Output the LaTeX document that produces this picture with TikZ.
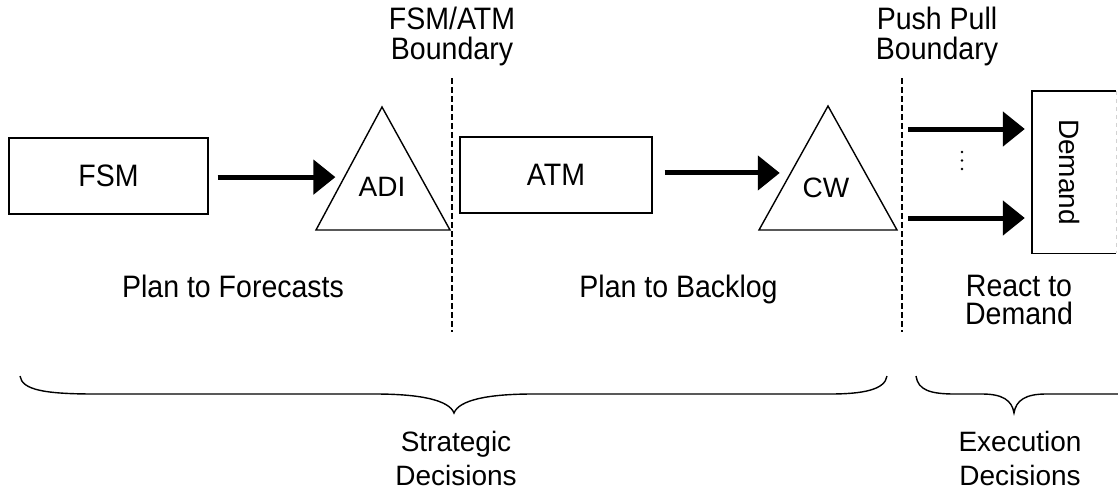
\documentclass[tikz,border=0pt]{standalone}
\usepackage{fontspec}
\setmainfont{Liberation Sans}
\newfontfamily\tallfont[FakeStretch=0.92]{Liberation Sans}
\usetikzlibrary{arrows.meta,calc}

\begin{document}
\begin{tikzpicture}[x=1pt,y=-1pt,
  box/.style={draw, line width=1.4pt, inner sep=0pt, font=\tallfont\fontsize{31}{30}\selectfont},
  tri/.style={draw, line width=1.4pt, line join=miter},
  conn/.style={line width=5pt, -{Triangle[length=22pt,width=34pt]}},
  boundary/.style={line width=1.3pt, dash pattern=on 6pt off 3pt},
  brace/.style={line width=1.4pt},
  lbl/.style={font=\tallfont\fontsize{31}{30}\selectfont, align=center, inner sep=0pt, anchor=base},
  sm/.style={font=\fontsize{28}{34}\selectfont, inner sep=0pt, align=center},
]
\useasboundingbox (0,0) rectangle (1118,490);

% planning boxes
\node[box, minimum width=199pt, minimum height=76pt] (fsm) at (108.5,176) {FSM};
\node[box, minimum width=192pt, minimum height=76pt] (atm) at (556,175) {ATM};

% inventory triangles
\coordinate (adiBL) at (316,230);
\coordinate (adiBR) at (450,230);
\coordinate (adiTop) at (382,107);
\draw[tri] (adiBL) -- (adiBR) -- (adiTop) -- cycle;
\node[sm] (adi) at (382,187) {ADI};

\coordinate (cwBL) at (759,230);
\coordinate (cwBR) at (897,230);
\coordinate (cwTop) at (828,106);
\draw[tri] (cwBL) -- (cwBR) -- (cwTop) -- cycle;
\node[sm] (cw) at (826,187.5) {CW};

% demand box, open to the right
\node[minimum width=84pt, minimum height=162pt, inner sep=0pt] (demand) at (1074,172) {};
\draw[line width=1.4pt] (demand.north east) -- (demand.north west) -- (demand.south west) -- (demand.south east);
\draw[gray!35, line width=1pt, dash pattern=on 4pt off 4pt] (demand.north east) -- (demand.south east);
\node[sm, rotate=-90] (demandtext) at (1069,172) {Demand};

% flows
\coordinate (adiIn) at ($(adiBL)!0.43!(adiTop)$);
\coordinate (cwIn) at ($(cwBL)!0.46!(cwTop)$);
\draw[conn, shorten <=9pt, shorten >=9pt] (fsm.east |- adiIn) -- (adiIn);
\draw[conn, shorten <=12pt, shorten >=11pt] (atm.east |- cwIn) -- (cwIn);

\coordinate (p1) at (908,129);
\coordinate (p2) at (908,218);
\draw[conn, shorten >=7pt] (p1) -- (demand.west |- p1);
\draw[conn, shorten >=7pt] (p2) -- (demand.west |- p2);
\foreach \yy in {152,160.5,169} \fill (962,\yy) circle (1.4pt);

% boundaries
\coordinate (b1t) at (452,78);
\coordinate (b1b) at (452,332);
\coordinate (b2t) at (902,78);
\coordinate (b2b) at (902,332);
\draw[boundary] (b1t) -- (b1b);
\draw[boundary] (b2t) -- (b2b);
% multi-line labels are placed by the baseline of their last line
\node[lbl] (fsmatm) at (452,59) {FSM/ATM\\Boundary};
\node[lbl] (pushpull) at (937,59) {Push Pull\\Boundary};

% phase labels
\node[lbl] (plan1) at (233,297) {Plan to Forecasts};
\node[lbl] (plan2) at (678.5,297) {Plan to Backlog};
\node[lbl, font=\tallfont\fontsize{31}{28}\selectfont] (react) at (1019,324) {React to\\Demand};

% braces
\draw[brace] (20,376) .. controls (22,390) and (45,394) .. (95,394) -- (375,394)
  .. controls (420,394) and (449,400) .. (454,413)
  .. controls (459,400) and (488,394) .. (533,394) -- (830,394)
  .. controls (862,394) and (885,390) .. (887,376);
\draw[brace] (916,376) .. controls (918,390) and (930,394) .. (955,394) -- (982,394)
  .. controls (1002,394) and (1012,400) .. (1014,413)
  .. controls (1016,400) and (1026,394) .. (1046,394) -- (1118,394);

\node[sm, anchor=base] (strategic) at (456,485) {Strategic\\Decisions};
\node[sm, anchor=base] (execution) at (1020,485) {Execution\\Decisions};
\end{tikzpicture}
\end{document}
